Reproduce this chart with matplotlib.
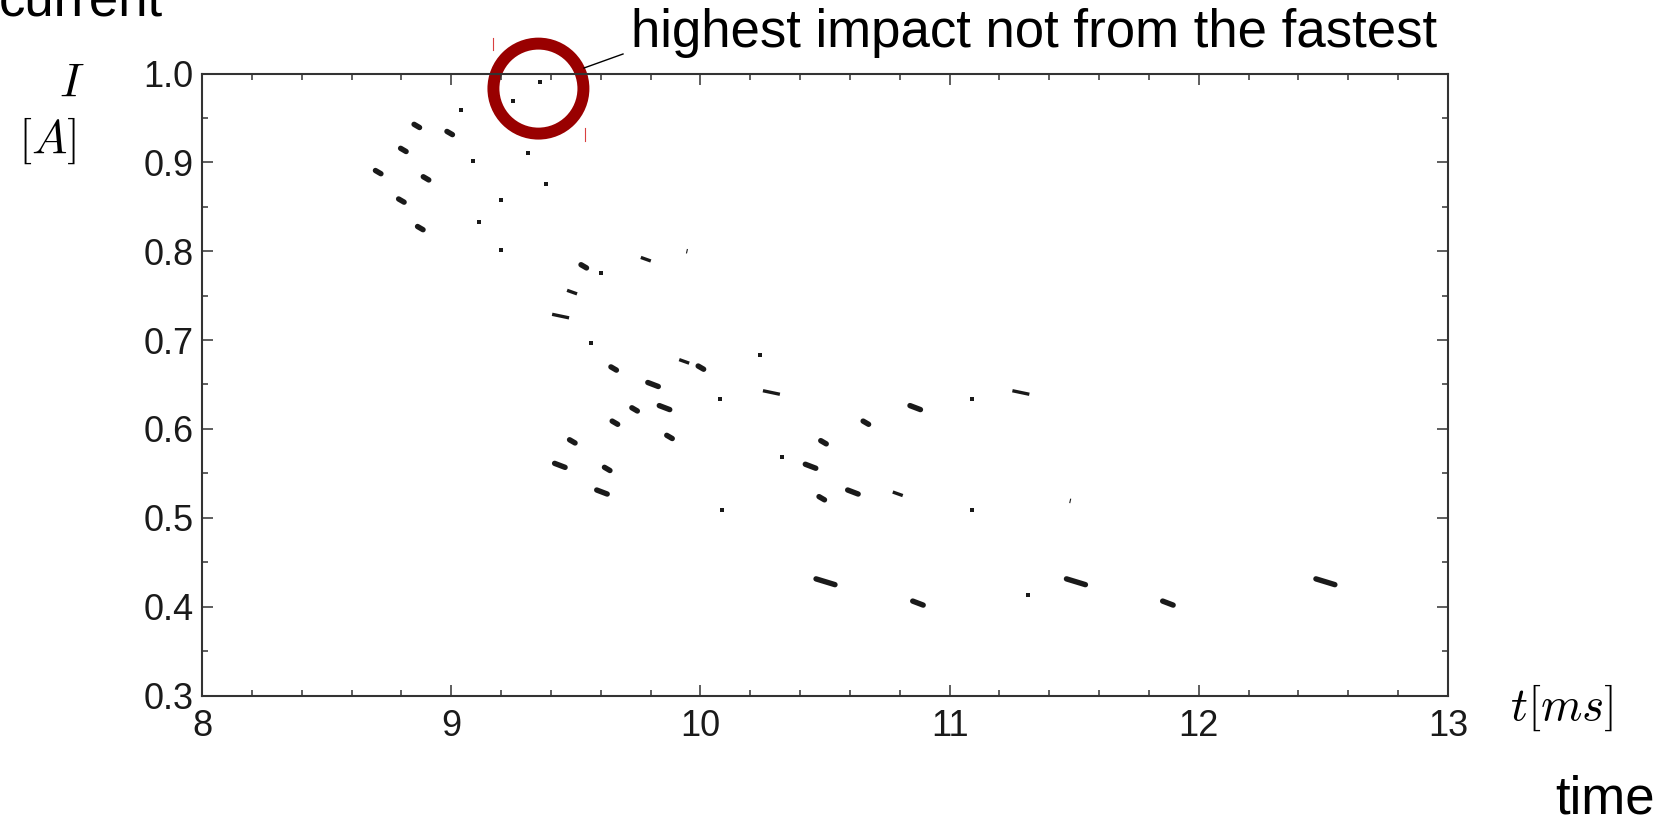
import numpy as np
import matplotlib.pyplot as plt
from matplotlib.patches import Ellipse
from matplotlib.lines import Line2D
from matplotlib.ticker import MultipleLocator

plt.rcParams['font.family'] = ['Liberation Sans', 'DejaVu Sans']
plt.rcParams['mathtext.fontset'] = 'cm'

W, H = 1669, 817

# impact events: time [ms], current [A], streak type
# d = dot, s = short streak, l = long streak, L = very long streak,
# w = wedge, W = long wedge, t = tiny tick
t_ms = [9.358, 9.247, 9.040, 8.862, 8.994, 8.808, 9.088, 9.307, 8.707, 8.899,
        9.379, 8.800, 9.201, 9.112, 8.876, 9.200,
        9.532, 9.602, 9.781, 9.946, 9.485, 9.439, 9.563, 9.652, 9.935, 10.002,
        10.239, 9.810, 10.080, 10.285, 9.736, 9.856, 9.657, 9.876, 9.486, 9.436,
        9.626, 9.605, 10.086, 10.329, 10.442, 10.494, 10.664, 10.862, 11.088, 11.286,
        10.487, 10.612, 10.792, 11.091, 11.484,
        10.502, 10.873, 11.313, 11.507, 11.876, 12.508]
cur_A = [0.990, 0.969, 0.959, 0.941, 0.933, 0.914, 0.901, 0.910, 0.889, 0.882,
         0.876, 0.857, 0.858, 0.833, 0.826, 0.801,
         0.783, 0.776, 0.791, 0.800, 0.754, 0.727, 0.697, 0.668, 0.676, 0.669,
         0.683, 0.650, 0.634, 0.641, 0.622, 0.624, 0.607, 0.591, 0.586, 0.559,
         0.555, 0.529, 0.509, 0.568, 0.558, 0.585, 0.607, 0.624, 0.634, 0.641,
         0.522, 0.529, 0.527, 0.509, 0.519,
         0.428, 0.404, 0.413, 0.428, 0.404, 0.428]
kind = ['d', 'd', 'd', 's', 's', 's', 'd', 'd', 's', 's',
        'd', 's', 'd', 'd', 's', 'd',
        's', 'd', 'w', 't', 'w', 'W', 'd', 's', 'w', 's',
        'd', 'l', 'd', 'W', 's', 'l', 's', 's', 's', 'l',
        's', 'l', 'd', 'd', 'l', 's', 's', 'l', 'd', 'W',
        's', 'l', 'w', 'd', 't',
        'L', 'l', 'd', 'L', 'l', 'L']

x_ticks = [8, 9, 10, 11, 12, 13]
y_ticks = [0.3, 0.4, 0.5, 0.6, 0.7, 0.8, 0.9, 1.0]

# streak shapes: (span in t, drop in I, line width, cap)
streak = {
    's': (0.022, 0.0036, 3.9, 'round'),
    'l': (0.042, 0.0045, 3.9, 'round'),
    'L': (0.076, 0.0065, 3.9, 'round'),
    'w': (0.040, 0.0040, 2.4, 'butt'),
    'W': (0.068, 0.0040, 2.4, 'butt'),
    't': (0.004, -0.005, 0.8, 'butt'),
}
ink = '#1a1a1a'


def fig_px(x, y):
    return x / W, 1 - y / H


fig = plt.figure(figsize=(W / 100, H / 100), dpi=100)
ax = fig.add_axes([202 / W, 1 - 695.5 / H, 1246 / W, 622 / H])

for t, i, k in zip(t_ms, cur_A, kind):
    if k == 'd':
        ax.plot(t, i, 's', ms=3.2, color=ink, mew=0)
    else:
        dt, di, lw, cap = streak[k]
        ax.plot([t - dt / 2, t + dt / 2], [i + di / 2, i - di / 2], '-',
                color=ink, lw=lw, solid_capstyle=cap)

ax.set_xlim(8, 13)
ax.set_ylim(0.3, 1.0)
ax.set_xticks(x_ticks)
ax.set_xticklabels([str(v) for v in x_ticks])
ax.set_yticks(y_ticks)
ax.set_yticklabels([f'{v:.1f}' for v in y_ticks])
ax.xaxis.set_minor_locator(MultipleLocator(0.2))
ax.yaxis.set_minor_locator(MultipleLocator(0.05))
ax.tick_params(which='both', direction='in', top=True, right=True,
               color='#333333', width=1.1, labelsize=26, labelcolor='#1a1a1a')
ax.tick_params(which='major', length=8)
ax.tick_params(which='minor', length=4)
ax.tick_params(axis='x', pad=10)
ax.tick_params(axis='y', pad=6)
for sp in ax.spines.values():
    sp.set_linewidth(1.5)
    sp.set_color('#333333')

# axis labels in math style
fig.text(*fig_px(72, 84), r'$I$', fontsize=34, ha='center', va='center')
fig.text(*fig_px(47, 141), r'$[A]$', fontsize=34, ha='center', va='center')
fig.text(*fig_px(1562, 708), r'$t[ms]$', fontsize=34, ha='center', va='center')

# plain-language captions
fig.text(*fig_px(-1, 15), 'current', fontsize=38, ha='left', va='baseline')
fig.text(*fig_px(1655, 813), 'time', fontsize=38, ha='right', va='baseline')
fig.text(*fig_px(631, 47), 'highest impact not from the fastest', fontsize=38,
         ha='left', va='baseline')

# ring round the highest impact
top = int(np.argmax(cur_A))
ring = Ellipse((t_ms[top] - 0.008, cur_A[top] - 0.007), width=90 / 249.2,
               height=90 / 888.6, fill=False, ec='#990000', lw=8.6, clip_on=False)
ax.add_patch(ring)

# leader line to the caption
x0, y0 = fig_px(584, 68)
x1, y1 = fig_px(623, 54)
fig.add_artist(Line2D([x0, x1], [y0, y1], transform=fig.transFigure,
                      color='black', lw=1.0))

# selection handles on the ring
for hx, hy0, hy1 in [(493, 38, 50), (585, 128, 141)]:
    a, b = fig_px(hx, hy0)
    _, c = fig_px(hx, hy1)
    fig.add_artist(Line2D([a, a], [b, c], transform=fig.transFigure,
                          color='#d94040', lw=0.8))

fig.savefig('out.png', dpi=100)
